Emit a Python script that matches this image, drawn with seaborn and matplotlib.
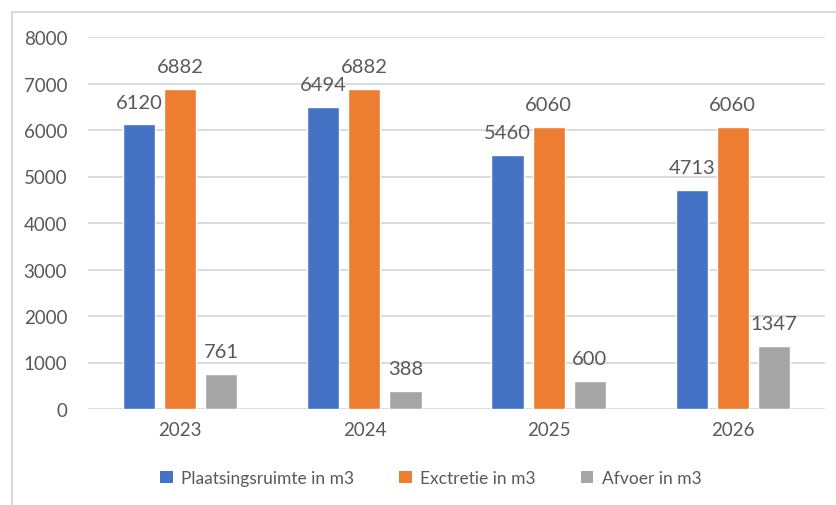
import pandas as pd
import matplotlib.pyplot as plt
import seaborn as sns
from matplotlib.patches import Patch
from matplotlib.lines import Line2D

# Data
years = ['2023', '2024', '2025', '2026']
plaatsingsruimte = [6120, 6494, 5460, 4713]
exctretie = [6882, 6882, 6060, 6060]
afvoer = [761, 388, 600, 1347]
series_names = ['Plaatsingsruimte in m3', 'Exctretie in m3', 'Afvoer in m3']
colors = ['#4472C4', '#ED7D31', '#A5A5A5']

df = pd.DataFrame({
    'Jaar': years * 3,
    'Waarde': plaatsingsruimte + exctretie + afvoer,
    'Reeks': [series_names[0]] * 4 + [series_names[1]] * 4 + [series_names[2]] * 4,
})

sns.set_style('white')
plt.rcParams['font.family'] = ['Lato', 'DejaVu Sans']
text_color = '#595959'
grid_color = '#D9D9D9'

fig = plt.figure(figsize=(8.37, 5.06), dpi=100)
W, H = 837, 506
ax = fig.add_axes([88 / W, 1 - 410 / H, (825 - 88) / W, (410 - 38) / H])

sns.barplot(data=df, x='Jaar', y='Waarde', hue='Reeks', palette=colors,
            width=0.67, gap=0.22, ax=ax, legend=False, saturation=1)

ax.set_ylim(0, 8000)
ax.set_xlim(-0.5, 3.5)
ax.set_yticks(range(0, 8001, 1000))
ax.yaxis.grid(True, color=grid_color, linewidth=1.3)
ax.set_axisbelow(True)
for s in ax.spines.values():
    s.set_visible(False)
ax.set_xlabel('')
ax.set_ylabel('')
ax.tick_params(axis='both', length=0, labelsize=13.5, colors=text_color)
ax.tick_params(axis='y', pad=15)
ax.tick_params(axis='x', pad=9)

for c in ax.containers:
    ax.bar_label(c, padding=10, fontsize=14.5, color=text_color)

handles = [Patch(facecolor=col, edgecolor='none') for col in colors]
fig.legend(handles, series_names, loc='center', bbox_to_anchor=(431 / W, 1 - 479 / H),
           ncol=3, frameon=False, fontsize=12.5, labelcolor=text_color,
           handlelength=0.7, handleheight=0.7, handletextpad=0.5, columnspacing=2.6)

# chart border (left and top visible)
fig.add_artist(Line2D([12 / W, 12 / W], [0, 1 - 13 / H], color=grid_color, linewidth=1.5,
                      transform=fig.transFigure))
fig.add_artist(Line2D([12 / W, 1], [1 - 13 / H, 1 - 13 / H], color=grid_color, linewidth=1.5,
                      transform=fig.transFigure))

fig.savefig('out.png', dpi=100)
